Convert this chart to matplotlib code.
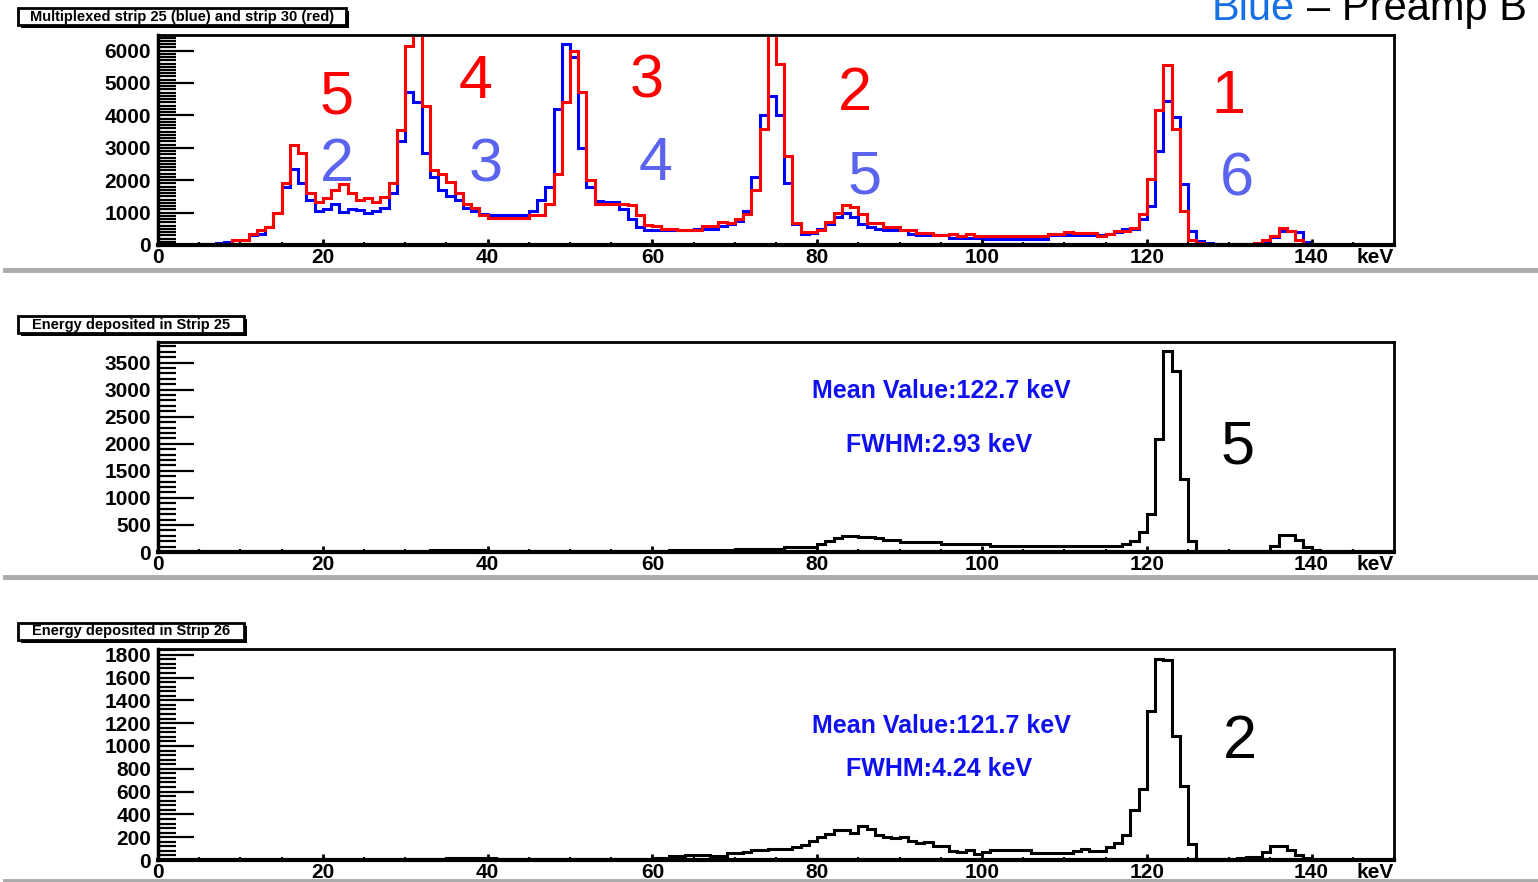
import matplotlib
matplotlib.use("Agg")
import matplotlib.pyplot as plt
import numpy as np
from matplotlib.lines import Line2D
from matplotlib.patches import Rectangle
from matplotlib.ticker import MultipleLocator

plt.rcParams["font.family"] = ["Liberation Sans", "DejaVu Sans"]

W, H = 1538, 882

# 1 keV bins from 0 to 150 keV
edges = np.arange(0, 151)

# multiplexed spectrum, strip 25 (blue)
blue_top = [
    10, 10, 10, 10, 10, 20, 30, 60, 80, 150,
    150, 300, 350, 550, 1000, 1800, 2350, 1900, 1400, 1050,
    1100, 1250, 1030, 1100, 1080, 980, 1050, 1150, 1620, 3200,
    4720, 4400, 2850, 2100, 1700, 1500, 1400, 1150, 1050, 950,
    920, 920, 920, 920, 920, 1050, 1400, 1800, 4200, 6200,
    5800, 3000, 1800, 1350, 1330, 1330, 1100, 800, 550, 450,
    450, 450, 450, 450, 450, 500, 500, 500, 600, 650,
    750, 1050, 2100, 4000, 4600, 4000, 1900, 650, 350, 380,
    500, 650, 850, 1000, 850, 650, 550, 500, 450, 450,
    450, 350, 300, 300, 300, 300, 230, 230, 230, 230,
    200, 200, 200, 200, 200, 200, 200, 200, 300, 300,
    300, 300, 300, 300, 300, 340, 400, 500, 500, 800,
    1200, 2900, 4440, 3960, 1880, 440, 130, 50, 20, 20,
    20, 20, 20, 20, 100, 250, 440, 440, 390, 80,
    0, 0, 0, 0, 0, 0, 0, 0, 0, 0,
]

# multiplexed spectrum, strip 30 (red)
red_top = [
    10, 10, 10, 10, 10, 40, 40, 20, 20, 150,
    150, 350, 450, 550, 1000, 1900, 3080, 2850, 1590, 1330,
    1440, 1690, 1880, 1590, 1380, 1440, 1330, 1490, 1920, 3550,
    6150, 8000, 4300, 2310, 2200, 1950, 1590, 1280, 1130, 920,
    820, 820, 820, 820, 820, 920, 920, 1280, 2200, 4400,
    6000, 4720, 2000, 1260, 1260, 1260, 1260, 1230, 920, 620,
    600, 480, 480, 460, 460, 460, 580, 580, 720, 670,
    790, 970, 1690, 3590, 7500, 5590, 2740, 690, 410, 410,
    460, 720, 1000, 1230, 1180, 970, 670, 670, 560, 560,
    460, 460, 380, 380, 310, 310, 338, 265, 338, 265,
    265, 265, 265, 265, 265, 265, 265, 265, 338, 338,
    410, 370, 370, 370, 290, 340, 440, 440, 510, 955,
    2030, 4165, 5540, 3590, 1060, 150, 60, 10, 10, 10,
    10, 10, 10, 50, 150, 270, 510, 440, 160, 0,
    0, 0, 0, 0, 0, 0, 0, 0, 0, 0,
]

# energy deposited in strip 25
strip25 = [
    0, 0, 0, 2, 2, 3, 3, 3, 3, 3,
    3, 3, 3, 3, 3, 3, 3, 3, 3, 3,
    3, 3, 3, 3, 3, 3, 3, 3, 3, 3,
    5, 5, 5, 30, 30, 30, 30, 30, 30, 30,
    10, 10, 10, 10, 10, 10, 10, 10, 10, 10,
    10, 10, 10, 10, 10, 10, 10, 10, 10, 10,
    20, 20, 30, 30, 30, 30, 30, 30, 30, 40,
    60, 60, 60, 60, 60, 60, 90, 90, 90, 90,
    150, 200, 250, 290, 290, 280, 280, 250, 215, 215,
    185, 185, 185, 185, 185, 150, 150, 150, 150, 150,
    150, 120, 120, 120, 120, 120, 120, 120, 120, 120,
    105, 105, 105, 105, 105, 105, 105, 150, 200, 370,
    710, 2090, 3715, 3345, 1355, 200, 12, 12, 12, 12,
    12, 12, 12, 12, 20, 120, 310, 310, 215, 90,
    40, 0, 0, 0, 0, 0, 0, 0, 0, 0,
]

# energy deposited in strip 26
strip26 = [
    0, 0, 0, 2, 2, 3, 3, 3, 3, 3,
    3, 3, 3, 3, 3, 3, 3, 3, 3, 3,
    3, 3, 3, 3, 3, 3, 3, 3, 3, 3,
    5, 5, 5, 5, 5, 18, 18, 18, 18, 18,
    18, 8, 8, 8, 8, 8, 8, 8, 8, 8,
    8, 8, 8, 8, 8, 8, 8, 8, 8, 8,
    15, 15, 35, 35, 45, 45, 45, 35, 35, 60,
    60, 70, 90, 90, 100, 100, 100, 110, 130, 170,
    200, 230, 265, 265, 240, 295, 270, 220, 200, 190,
    200, 170, 150, 160, 120, 120, 80, 70, 90, 50,
    70, 90, 90, 90, 90, 90, 60, 60, 60, 60,
    60, 80, 100, 80, 80, 110, 150, 220, 440, 620,
    1307, 1760, 1750, 1083, 650, 140, 5, 5, 5, 5,
    5, 15, 30, 30, 70, 125, 125, 90, 45, 15,
    0, 0, 0, 0, 0, 0, 0, 0, 0, 0,
]


def px(x, y):
    return x / W, 1 - y / H


def style_axes(ax, ymax, major, minor):
    ax.set_xlim(0, 150)
    ax.set_ylim(0, ymax)
    ax.xaxis.set_major_locator(MultipleLocator(20))
    ax.xaxis.set_minor_locator(MultipleLocator(5))
    ax.yaxis.set_major_locator(MultipleLocator(major))
    ax.yaxis.set_minor_locator(MultipleLocator(minor))
    ax.tick_params(axis="y", which="major", direction="in", length=26, width=1.6,
                   labelsize=15, pad=5)
    ax.tick_params(axis="y", which="minor", direction="in", length=13, width=1.6)
    ax.tick_params(axis="x", which="major", direction="in", length=4, width=2,
                   labelsize=15, pad=2)
    ax.tick_params(axis="x", which="minor", direction="in", length=2.5, width=1.5)
    for lab in ax.get_xticklabels() + ax.get_yticklabels():
        lab.set_fontweight("bold")
    ax.spines["bottom"].set_linewidth(3)
    ax.spines["left"].set_linewidth(2.5)
    ax.spines["top"].set_linewidth(2)
    ax.spines["right"].set_linewidth(2)
    ax.text(1.0, -0.015, "keV", transform=ax.transAxes, ha="right", va="top",
            fontsize=15, fontweight="bold")


def title_box(fig, x0, y0, x1, y1, text):
    sx, sy = px(x0 + 3, y1 + 3)
    fig.add_artist(Rectangle((sx, sy), (x1 - x0) / W, (y1 - y0) / H,
                             transform=fig.transFigure, facecolor="black",
                             edgecolor="black", lw=0))
    bx, by = px(x0, y1)
    fig.add_artist(Rectangle((bx, by), (x1 - x0) / W, (y1 - y0) / H,
                             transform=fig.transFigure, facecolor="white",
                             edgecolor="black", lw=2))
    cx, cy = px((x0 + x1) / 2, (y0 + y1) / 2)
    fig.text(cx, cy, text, ha="center", va="center", fontsize=10.5,
             fontweight="bold")


def separator(fig, y):
    fig.add_artist(Line2D([5 / W, 1], [1 - y / H, 1 - y / H],
                          transform=fig.transFigure, color="#ababab", lw=3.5))


fig = plt.figure(figsize=(W / 100, H / 100), dpi=100)

ax1 = fig.add_axes([158 / W, 1 - 245 / H, 1236 / W, 210 / H])
ax2 = fig.add_axes([158 / W, 1 - 552 / H, 1236 / W, 210 / H])
ax3 = fig.add_axes([158 / W, 1 - 860 / H, 1236 / W, 211 / H])

ax1.stairs(blue_top, edges, color="#0000ff", lw=2.2)
ax1.stairs(red_top, edges, color="#ff0000", lw=2.2)
ax2.stairs(strip25, edges, color="black", lw=2.2)
ax3.stairs(strip26, edges, color="black", lw=2.2)

style_axes(ax1, 6480, 1000, 100)
style_axes(ax2, 3880, 500, 100)
style_axes(ax3, 1850, 200, 40)

title_box(fig, 18, 8, 346, 25, "Multiplexed strip 25 (blue) and strip 30 (red)")
title_box(fig, 18, 316, 244, 333, "Energy deposited in Strip 25")
title_box(fig, 18, 623, 244, 640, "Energy deposited in Strip 26")

separator(fig, 270)
separator(fig, 577)
separator(fig, 881)

# peak numbering
red_c = "#ff0000"
blue_c = "#5a64ee"
digits = [
    ("5", 337, 114, red_c), ("4", 476, 98, red_c), ("3", 647, 97, red_c),
    ("2", 855, 110, red_c), ("1", 1228, 113, red_c),
    ("2", 337, 181, blue_c), ("3", 486, 181, blue_c), ("4", 656, 180, blue_c),
    ("5", 865, 193, blue_c), ("6", 1237, 196, blue_c),
    ("5", 1238, 463, "black"), ("2", 1240, 758, "black"),
]
for d, x, y, c in digits:
    fx, fy = px(x, y)
    fig.text(fx, fy, d, ha="center", va="baseline", fontsize=44, color=c)

stats = [
    ("Mean Value:122.7 keV", 941, 391), ("FWHM:2.93 keV", 939, 445),
    ("Mean Value:121.7 keV", 941, 726), ("FWHM:4.24 keV", 939, 769),
]
for s, x, y in stats:
    fx, fy = px(x, y)
    fig.text(fx, fy, s, ha="center", va="center", fontsize=18,
             fontweight="bold", color="#1010f0")

fx, fy = px(1212, 20)
fig.text(fx, fy, "Blue", ha="left", va="baseline", fontsize=30, color="#1670e6")
fx, fy = px(1307, 20)
fig.text(fx, fy, "\u2013 Preamp B", ha="left", va="baseline", fontsize=30,
         color="black")

fig.savefig("out.png", dpi=100)
